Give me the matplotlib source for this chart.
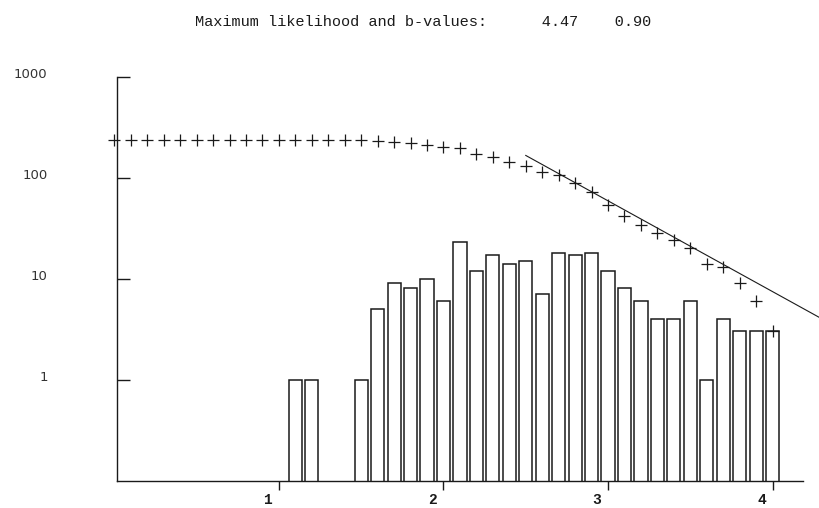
import matplotlib
matplotlib.use("Agg")
import matplotlib.pyplot as plt
from matplotlib.transforms import ScaledTranslation

# Magnitude bins (histogram, non-cumulative)
bar_mag = [1.1, 1.2, 1.5, 1.6, 1.7, 1.8, 1.9, 2.0, 2.1, 2.2, 2.3, 2.4,
           2.5, 2.6, 2.7, 2.8, 2.9, 3.0, 3.1, 3.2, 3.3, 3.4, 3.5, 3.6,
           3.7, 3.8, 3.9, 4.0]
bar_count = [1, 1, 1, 5, 9, 8, 10, 6, 23, 12, 17, 14,
             15, 7, 18, 17, 18, 12, 8, 6, 4, 4, 6, 1,
             4, 3, 3, 3]

# Cumulative number of events N(>=M)
cum_mag = [0.0, 0.1, 0.2, 0.3, 0.4, 0.5, 0.6, 0.7, 0.8, 0.9, 1.0,
           1.1, 1.2, 1.3, 1.4, 1.5, 1.6, 1.7, 1.8, 1.9, 2.0,
           2.1, 2.2, 2.3, 2.4, 2.5, 2.6, 2.7, 2.8, 2.9, 3.0,
           3.1, 3.2, 3.3, 3.4, 3.5, 3.6, 3.7, 3.8, 3.9, 4.0]
cum_count = [236, 236, 236, 236, 236, 236, 236, 236, 236, 236, 236,
             236, 235, 234, 234, 234, 233, 228, 219, 211, 201,
             195, 172, 160, 143, 129, 114, 107, 89, 72, 54,
             42, 34, 28, 24, 20, 14, 13, 9, 6, 3]

# Maximum likelihood fit line (a = 4.47, b = 0.90)
fit_mag = [2.5, 4.35]
fit_count = [166, 3.6]

x_ticks = [1, 2, 3, 4]
y_ticks = [1, 10, 100, 1000]
y_labels = ["1", "10", "100", "1000"]

ink = "#1a1a1a"

fig = plt.figure(figsize=(8.2, 5.08), dpi=100)
ax = fig.add_axes([0.1427, 0.0541, 0.8366, 0.7949])

ax.bar(bar_mag, bar_count, width=0.08, color="white",
       edgecolor=ink, linewidth=1.1)
ax.plot(cum_mag, cum_count, linestyle="none", marker="+", markersize=8,
        markeredgewidth=0.9, color=ink, clip_on=False)
ax.plot(fit_mag, fit_count, color=ink, linewidth=0.8, clip_on=False)

ax.set_yscale("log")
ax.set_xlim(0.016, 4.185)
ax.set_ylim(0.1, 1000)

for side in ["top", "right"]:
    ax.spines[side].set_visible(False)
for side in ["left", "bottom"]:
    ax.spines[side].set_color(ink)
    ax.spines[side].set_linewidth(1.0)

ax.set_xticks(x_ticks)
ax.set_xticklabels([str(t) for t in x_ticks], fontfamily="Liberation Mono",
                   fontsize=10.5, fontweight="bold")
ax.set_yticks(y_ticks)
ax.set_yticklabels(y_labels, fontfamily="DejaVu Sans", fontsize=9.5)
ax.yaxis.set_minor_locator(matplotlib.ticker.NullLocator())
ax.tick_params(axis="x", direction="out", length=6.5, width=1.0,
               color=ink, pad=2.5, labelcolor=ink)
ax.tick_params(axis="y", direction="in", length=9.5, width=1.0,
               color=ink, pad=50, labelcolor="#333333")

# labels sit a little off their ticks in the original
for lab in ax.get_xticklabels():
    lab.set_transform(lab.get_transform() +
                      ScaledTranslation(-0.11, 0, fig.dpi_scale_trans))
for lab in ax.get_yticklabels():
    lab.set_transform(lab.get_transform() +
                      ScaledTranslation(0, 0.035, fig.dpi_scale_trans))

fig.text(0.516, 0.957,
         "Maximum likelihood and b-values:      4.47    0.90",
         ha="center", va="center", fontfamily="Liberation Mono",
         fontsize=11, color=ink)

fig.savefig("out.png", dpi=100)
